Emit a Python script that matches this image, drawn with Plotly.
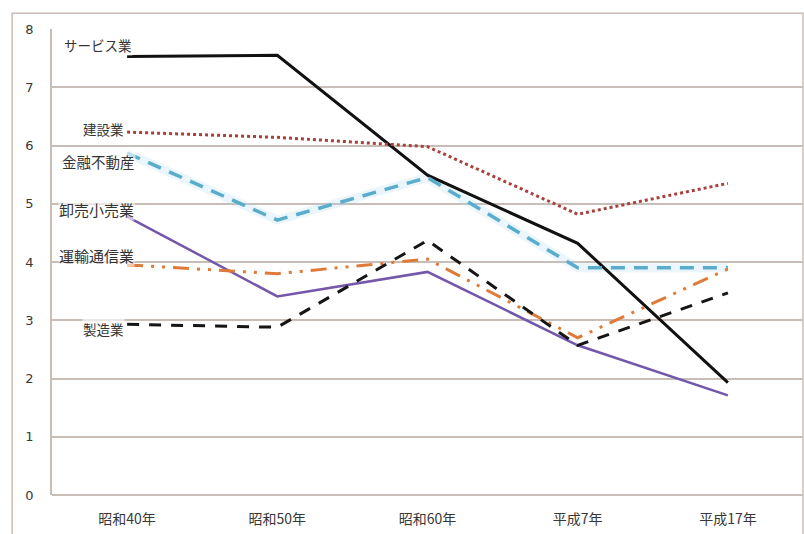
import plotly.graph_objects as go

categories = ["昭和40年", "昭和50年", "昭和60年", "平成7年", "平成17年"]
service = [7.53, 7.55, 5.49, 4.32, 1.93]
construction = [6.23, 6.14, 5.98, 4.82, 5.35]
finance = [5.87, 4.72, 5.45, 3.90, 3.90]
retail = [4.78, 3.41, 3.83, 2.57, 1.71]
transport = [3.95, 3.80, 4.05, 2.70, 3.88]
manufacturing = [2.93, 2.88, 4.37, 2.57, 3.47]
series_names = ["サービス業", "建設業", "金融不動産", "卸売小売業", "運輸通信業", "製造業"]
y_ticks = [0, 1, 2, 3, 4, 5, 6, 7, 8]

FONT = "Noto Sans CJK JP"
fig = go.Figure()

# soft glow under the finance line
fig.add_trace(go.Scatter(x=categories, y=finance, mode="lines",
                         line=dict(color="rgba(170,220,240,0.25)", width=9),
                         hoverinfo="skip", showlegend=False))

styles = [
    (service, dict(color="#111111", width=3, dash="solid")),
    (construction, dict(color="#a8403c", width=3, dash="dot")),
    (finance, dict(color="#5aaccc", width=3.5, dash="14px,9px")),
    (retail, dict(color="#7357ab", width=2.5, dash="solid")),
    (transport, dict(color="#e07a38", width=3, dash="16px,8px,3px,8px,3px,8px")),
    (manufacturing, dict(color="#151515", width=3, dash="12px,10px")),
]
for (vals, ln), name in zip(styles, series_names):
    fig.add_trace(go.Scatter(x=categories, y=vals, mode="lines", name=name,
                             line=ln, showlegend=False))

# labels next to the first point of each series
label_y = [7.72, 6.28, 5.72, 4.9, 4.12, 2.85]
label_dx = [0, -8, 3, 2, 2, -8]
label_size = [13.5, 13.5, 14.5, 15, 15, 13.5]
for name, ly, dx, fs in zip(series_names, label_y, label_dx, label_size):
    fig.add_annotation(x=categories[0], y=ly, text=name, showarrow=False,
                       xanchor="right", xshift=6 + dx, yanchor="middle",
                       font=dict(family=FONT, size=fs, color="#333333"),
                       bgcolor="rgba(255,255,255,0.6)", borderpad=0)

fig.update_layout(
    width=804, height=534,
    margin=dict(l=52, r=1, t=29, b=39),
    paper_bgcolor="white", plot_bgcolor="white",
    font=dict(family=FONT, size=13, color="#444444"),
    xaxis=dict(type="category", range=[-0.5, 4.5], showgrid=False,
               showline=False, ticks="", ticklabelstandoff=14,
               tickfont=dict(family=FONT, size=14, color="#383838")),
    yaxis=dict(range=[0, 8], tickvals=y_ticks, showgrid=True,
               gridcolor="#c9bdb8", gridwidth=1.5, zeroline=True,
               zerolinecolor="#c9bdb8", zerolinewidth=1.5,
               showline=True, linecolor="#c9bdb8", linewidth=1.5,
               ticks="", ticklabelstandoff=14,
               tickfont=dict(family="DejaVu Sans", size=13, color="#383838")),
    shapes=[dict(type="rect", xref="paper", yref="paper",
                 x0=-0.053, x1=1.0, y0=-0.2, y1=1.034,
                 line=dict(color="#c9bdb8", width=1.5), fillcolor="rgba(0,0,0,0)")],
)

fig.write_html("out.html")
